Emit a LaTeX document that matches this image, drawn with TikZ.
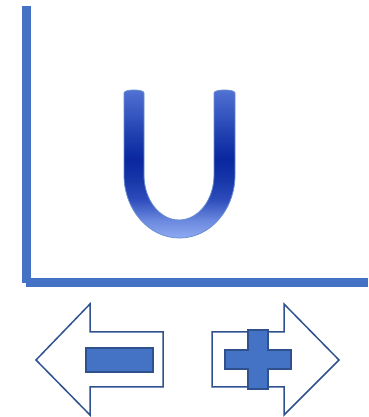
\documentclass[tikz,border=0pt]{standalone}
\usepackage{xcolor}
\usepackage{tikz}
\definecolor{axisblue}{HTML}{4472C4}
\definecolor{edgeblue}{HTML}{2F528F}
\definecolor{ua}{HTML}{8FAAF2}
\definecolor{ub}{HTML}{6A88DE}
\definecolor{uc}{HTML}{2E4CBB}
\definecolor{ud}{HTML}{1535A8}
\definecolor{ue}{HTML}{0A27A0}
\definecolor{uf}{HTML}{2040B0}
\definecolor{ug}{HTML}{5272D4}
\pgfdeclareverticalshading{ushade}{100bp}{%
    color(0bp)=(ua); color(25bp)=(ua); color(31bp)=(ub);
    color(38bp)=(uc); color(45bp)=(ud); color(51.5bp)=(ue);
    color(60bp)=(uf); color(75bp)=(ug); color(100bp)=(ug)}

\begin{document}
\begin{tikzpicture}[
    x=1pt, y=1pt,
    axisline/.style={line width=9pt, draw=axisblue},
    arrowbox/.style={draw=edgeblue, line width=1.5pt, fill=white, line join=miter},
    signbox/.style={draw=edgeblue, line width=1.5pt, fill=axisblue},
    letter/.style={shading=ushade, draw=axisblue!80, line width=0.8pt}
]
    \useasboundingbox (0,0) rectangle (368,417);

    % axes
    \draw [axisline] (26.5,411) -- (26.5,134);
    \draw [axisline] (26,134) -- (368,134);

    % the letter U
    \shadedraw [letter] (124,324) -- (124,242)
        arc[start angle=180, end angle=360, x radius=55.5, y radius=63]
        -- (235,324) .. controls (235,328) and (214,328) .. (214,324)
        -- (214,242)
        arc[start angle=0, end angle=-180, x radius=35, y radius=45]
        -- (144,324) .. controls (144,328) and (124,328) .. (124,324) -- cycle;

    % left arrow with minus
    \draw [arrowbox] (36,57) -- (90,113) -- (90,85) -- (163,85) -- (163,30)
        -- (90,30) -- (90,2) -- cycle;
    \draw [signbox] (86,45) rectangle (153,69);

    % right arrow with plus
    \draw [arrowbox] (339,57) -- (284,113) -- (284,85) -- (212,85) -- (212,30)
        -- (284,30) -- (284,2) -- cycle;
    \draw [signbox] (248,87) -- (268,87) -- (268,67) -- (291,67) -- (291,48)
        -- (268,48) -- (268,28) -- (248,28) -- (248,48) -- (225,48) -- (225,67)
        -- (248,67) -- cycle;
\end{tikzpicture}
\end{document}
